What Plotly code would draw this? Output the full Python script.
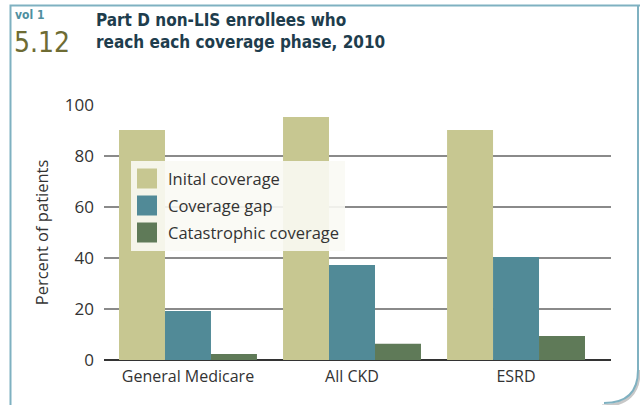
import plotly.graph_objects as go

categories = ["General Medicare", "All CKD", "ESRD"]
series_names = ["Inital coverage", "Coverage gap", "Catastrophic coverage"]
initial_coverage = [90.2, 95.3, 90.2]
coverage_gap = [19.2, 37.3, 40.4]
catastrophic = [2.4, 6.4, 9.4]
series_values = [initial_coverage, coverage_gap, catastrophic]
colors = ["#c7c791", "#518a97", "#5f7a58"]
y_ticks = [0, 20, 40, 60, 80, 100]

# plot-area pixel geometry
L, R, T, B = 104, 611, 105, 360
W, H = 640, 405


def px(x):
    return (x - L) / (R - L)


def py(y):
    return (B - y) / (B - T)


fig = go.Figure()
for name, vals, col in zip(series_names, series_values, colors):
    fig.add_trace(go.Bar(x=categories, y=vals, name=name, marker_color=col,
                         marker_line_width=0, showlegend=False))

font_main = "Open Sans"
font_cond = "DejaVu Sans Condensed, Roboto Condensed, Roboto, sans-serif"

shapes = []
annotations = []

# legend box (manual, large swatches)
shapes.append(dict(type="rect", xref="paper", yref="paper", layer="above",
                   x0=px(131), x1=px(345), y0=py(161), y1=py(251),
                   fillcolor="rgba(250,250,244,0.9)", line_width=0))
for i, (name, col) in enumerate(zip(series_names, colors)):
    cy = 178.5 + 27 * i
    shapes.append(dict(type="rect", xref="paper", yref="paper", layer="above",
                       x0=px(137), x1=px(157), y0=py(cy - 10), y1=py(cy + 10),
                       fillcolor=col, line_width=0))
    annotations.append(dict(text=name, xref="paper", yref="paper", x=px(166), y=py(cy),
                            xanchor="left", yanchor="middle", showarrow=False,
                            font=dict(family=font_main, size=16.5, color="#333333")))

# frame
frame_col = "#7fb1c1"
shapes.append(dict(type="path", xref="paper", yref="paper", layer="above",
                   path=f"M {px(10.5)} {py(406)} L {px(10.5)} {py(5.5)} L {px(640)} {py(5.5)}",
                   line=dict(color=frame_col, width=2)))
shapes.append(dict(type="path", xref="paper", yref="paper", layer="above",
                   path=(f"M {px(639)} {py(370)} Q {px(640)} {py(405)} {px(602)} {py(406)}"),
                   line=dict(color="#c8c8c8", width=3)))
shapes.append(dict(type="path", xref="paper", yref="paper", layer="above",
                   path=(f"M {px(638)} {py(5)} L {px(638)} {py(370)} Q {px(638)} {py(403)} {px(604)} {py(403)}"),
                   line=dict(color=frame_col, width=2)))

# header texts
annotations.append(dict(text="<b>vol 1</b>", xref="paper", yref="paper", x=px(13), y=py(24),
                        xanchor="left", yanchor="bottom", showarrow=False,
                        font=dict(family=font_cond, size=12, color="#4f8fa0")))
annotations.append(dict(text="5.12", xref="paper", yref="paper", x=px(12), y=py(24),
                        xanchor="left", yanchor="top", showarrow=False,
                        font=dict(family=font_cond, size=28, color="#6e6c34")))
annotations.append(dict(text="<b>Part D non-LIS enrollees who<br>reach each coverage phase, 2010</b>",
                        xref="paper", yref="paper", x=px(94), y=py(8),
                        xanchor="left", yanchor="top", align="left", showarrow=False,
                        font=dict(family=font_cond, size=17, color="#1e3d4d")))

fig.update_layout(
    width=W, height=H,
    margin=dict(l=L, r=W - R, t=T, b=H - B, pad=0),
    paper_bgcolor="white", plot_bgcolor="white",
    barmode="group", bargap=0.159, bargroupgap=0,
    showlegend=False,
    shapes=shapes, annotations=annotations,
    xaxis=dict(type="category", range=[-0.512, 2.579], showgrid=False, showline=False,
               ticks="", tickfont=dict(family=font_main, size=16, color="#333333"),
               ticklabelstandoff=5, zeroline=False),
    yaxis=dict(range=[0, 100], tickvals=y_ticks, showgrid=True, gridcolor="#8a8a8a",
               gridwidth=1.5, zeroline=True, zerolinecolor="#333333", zerolinewidth=1.5,
               ticks="", showline=False, ticklabelstandoff=9,
               tickfont=dict(family=font_main, size=17, color="#333333"),
               title=dict(text="Percent of patients", standoff=12,
                          font=dict(family=font_main, size=16.5, color="#333333"))),
)

fig.write_html("out.html", config={"displayModeBar": False},
               post_script="document.body.style.margin='0';document.body.style.padding='0';")
